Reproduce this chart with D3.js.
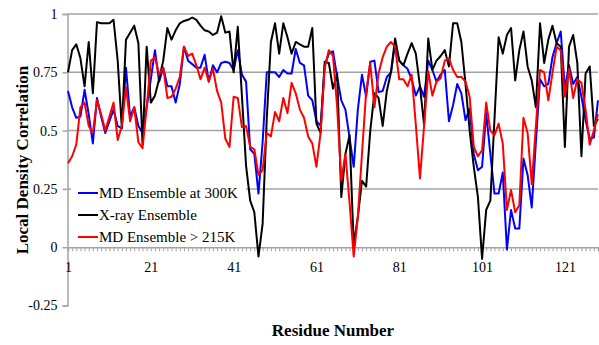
<!DOCTYPE html>
<html>
<head>
<meta charset="utf-8">
<script src="https://cdn.jsdelivr.net/npm/d3@7/dist/d3.min.js"></script>
<style>
body { margin: 0; background: #fff; }
svg text { font-family: "Liberation Serif", "Times New Roman", serif; fill: #000; }
</style>
</head>
<body>
<svg id="chart" width="599" height="345"></svg>
<script>
// residue numbers 1..129, one value per residue and series
var residues = d3.range(1, 130)

var md300 = [
    0.67, 0.6, 0.555, 0.56, 0.675, 0.57, 0.445, 0.64, 0.56, 0.49,
    0.54, 0.59, 0.52, 0.51, 0.77, 0.56, 0.6, 0.52, 0.49, 0.6,
    0.72, 0.845, 0.71, 0.77, 0.69, 0.69, 0.62, 0.7, 0.86, 0.8,
    0.785, 0.77, 0.77, 0.825, 0.71, 0.78, 0.75, 0.79, 0.795, 0.79,
    0.76, 0.845, 0.74, 0.71, 0.42, 0.4, 0.23, 0.45, 0.75, 0.75,
    0.75, 0.73, 0.76, 0.745, 0.745, 0.85, 0.79, 0.78, 0.65, 0.63,
    0.54, 0.52, 0.78, 0.83, 0.84, 0.73, 0.63, 0.59, 0.47, 0.345,
    0.59, 0.74, 0.645, 0.795, 0.8, 0.665, 0.67, 0.73, 0.75, 0.875,
    0.8, 0.78, 0.765, 0.72, 0.65, 0.69, 0.645, 0.8, 0.76, 0.71,
    0.74, 0.76, 0.54, 0.61, 0.7, 0.66, 0.545, 0.595, 0.4, 0.33,
    0.345, 0.575, 0.4, 0.23, 0.23, 0.32, -0.01, 0.16, 0.08, 0.08,
    0.38, 0.31, 0.17, 0.45, 0.72, 0.69, 0.7, 0.815, 0.875, 0.925,
    0.68, 0.78, 0.7, 0.73, 0.645, 0.545, 0.465, 0.47, 0.63
]

var xray = [
    0.75, 0.845, 0.87, 0.81, 0.69, 0.88, 0.66, 0.965, 0.96, 0.96,
    0.96, 0.975, 0.8, 0.51, 0.89, 0.92, 0.95, 0.875, 0.44, 0.86,
    0.62, 0.65, 0.72, 0.8, 0.94, 0.89, 0.93, 0.96, 0.97, 0.975,
    0.985, 0.975, 0.95, 0.93, 0.925, 0.91, 0.92, 0.99, 0.92, 0.925,
    0.75, 0.945, 0.65, 0.35, 0.2, 0.15, -0.04, 0.1, 0.55, 0.88,
    0.96, 0.83, 0.96, 0.9, 0.83, 0.88, 0.87, 0.86, 0.86, 0.94,
    0.53, 0.49, 0.795, 0.79, 0.68, 0.745, 0.215, 0.4, 0.48, 0.01,
    0.13, 0.285, 0.26, 0.5, 0.66, 0.64, 0.52, 0.67, 0.75, 0.895,
    0.8, 0.78, 0.83, 0.875, 0.83, 0.69, 0.525, 0.895, 0.76, 0.8,
    0.82, 0.845, 0.775, 0.96, 0.96, 0.88, 0.7, 0.5, 0.345, 0.215,
    -0.05, 0.16, 0.2, 0.55, 0.9, 0.83, 0.91, 0.94, 0.715, 0.845,
    0.925, 0.775, 0.715, 0.6, 0.96, 0.79, 0.89, 0.95, 0.875, 0.86,
    0.43, 0.86, 0.91, 0.79, 0.39, 0.745, 0.775, 0.52, 0.55
]

var md215 = [
    0.36, 0.39, 0.44, 0.6, 0.62, 0.52, 0.49, 0.63, 0.57, 0.5,
    0.56, 0.62, 0.46, 0.52, 0.685, 0.54, 0.6, 0.45, 0.425, 0.6,
    0.8, 0.815, 0.74, 0.77, 0.64, 0.645, 0.68, 0.73, 0.86, 0.82,
    0.83, 0.78, 0.72, 0.77, 0.71, 0.765, 0.67, 0.62, 0.465, 0.43,
    0.645, 0.64, 0.515, 0.52, 0.43, 0.42, 0.31, 0.33, 0.49, 0.475,
    0.58, 0.54, 0.64, 0.575, 0.705, 0.66, 0.59, 0.555, 0.475, 0.445,
    0.345, 0.49, 0.77, 0.845, 0.82, 0.6, 0.285, 0.4, 0.19, -0.04,
    0.13, 0.4, 0.665, 0.79, 0.6, 0.745, 0.815, 0.86, 0.88, 0.86,
    0.72, 0.72, 0.69, 0.74, 0.525, 0.295, 0.52, 0.755, 0.65, 0.71,
    0.725, 0.8, 0.81, 0.76, 0.73, 0.73, 0.71, 0.645, 0.43, 0.39,
    0.415, 0.62, 0.5, 0.48, 0.53, 0.445, 0.16, 0.245, 0.15, 0.18,
    0.555, 0.49, 0.27, 0.52, 0.76, 0.75, 0.63, 0.745, 0.86, 0.845,
    0.645, 0.765, 0.64, 0.72, 0.705, 0.59, 0.44, 0.5, 0.57
]

var seriesNames = ["MD Ensemble at 300K", "X-ray Ensemble", "MD Ensemble > 215K"]
var yTicks = [-0.25, 0, 0.25, 0.5, 0.75, 1]
var gridTicks = [0.25, 0.5, 0.75, 1]
var xLabels = [1, 21, 41, 61, 81, 101, 121]

var serif = "'Liberation Serif', 'Times New Roman', serif"

function drawChart() {
    var svg = d3.select("#chart")
    var gridColor = "#a3a3a3"

    var x = d3.scaleLinear().domain([1, 129]).range([68, 598])
    var y = d3.scaleLinear().domain([-0.25, 1]).range([305.5, 14])

    // horizontal grid lines
    svg.append("g")
        .selectAll("line")
        .data(gridTicks)
        .enter()
        .append("line")
        .attr("x1", x(1) - 0.5)
        .attr("x2", x(129))
        .attr("y1", function(d) { return y(d) })
        .attr("y2", function(d) { return y(d) })
        .attr("stroke", gridColor)
        .attr("stroke-width", 1.5)

    // value axis
    var yAxis = svg.append("g")
        .attr("transform", "translate(" + (x(1) - 0.5) + ",0)")
        .call(d3.axisLeft(y)
            .tickValues(yTicks)
            .tickSize(5)
            .tickPadding(5)
            .tickFormat(function(d) { return String(d) }))
    yAxis.select(".domain").attr("stroke", gridColor).attr("stroke-width", 1.5)
    yAxis.selectAll(".tick line").attr("stroke", gridColor).attr("stroke-width", 1.5)
    yAxis.selectAll("text")
        .style("font-family", serif)
        .style("font-size", "14px")
        .attr("fill", "#000")

    // category axis on the zero line, one tick per residue
    var xAxis = svg.append("g")
        .attr("transform", "translate(0," + y(0) + ")")
        .call(d3.axisBottom(x)
            .tickValues(residues)
            .tickSize(4)
            .tickPadding(11)
            .tickFormat(function(d) { return xLabels.indexOf(d) >= 0 ? String(d) : "" }))
    xAxis.select(".domain").attr("stroke", gridColor).attr("stroke-width", 1.5)
    xAxis.selectAll(".tick line").attr("stroke", gridColor).attr("stroke-width", 1)
    xAxis.selectAll("text")
        .style("font-family", serif)
        .style("font-size", "14px")
        .attr("fill", "#000")

    // data lines
    var series = [
        { name: seriesNames[0], values: md300, color: "#0000ff" },
        { name: seriesNames[1], values: xray, color: "#000000" },
        { name: seriesNames[2], values: md215, color: "#ff0000" }
    ]

    var line = d3.line()
        .x(function(d, i) { return x(residues[i]) })
        .y(function(d) { return y(d) })

    svg.append("g")
        .selectAll("path")
        .data(series)
        .enter()
        .append("path")
        .attr("d", function(d) { return line(d.values) })
        .attr("fill", "none")
        .attr("stroke", function(d) { return d.color })
        .attr("stroke-width", 2)
        .attr("stroke-linejoin", "round")

    // legend sits on a white box over the lower left of the plot
    var legend = svg.append("g")
    legend.append("rect")
        .attr("x", 71)
        .attr("y", 181)
        .attr("width", 175)
        .attr("height", 64)
        .attr("fill", "#fff")

    var items = legend.selectAll(".legend_item")
        .data(series)
        .enter()
        .append("g")
        .attr("class", "legend_item")
        .attr("transform", function(d, i) { return "translate(0," + (193 + i * 22) + ")" })

    items.append("line")
        .attr("x1", 78)
        .attr("x2", 98)
        .attr("stroke", function(d) { return d.color })
        .attr("stroke-width", 2)

    items.append("text")
        .attr("x", 99)
        .attr("y", 5)
        .style("font-family", serif)
        .style("font-size", "15px")
        .text(function(d) { return d.name })

    // axis titles
    svg.append("text")
        .attr("transform", "translate(28,160) rotate(-90)")
        .attr("text-anchor", "middle")
        .style("font-family", serif)
        .style("font-size", "17px")
        .style("font-weight", "bold")
        .text("Local Density Correlation")

    svg.append("text")
        .attr("x", 333)
        .attr("y", 336)
        .attr("text-anchor", "middle")
        .style("font-family", serif)
        .style("font-size", "17px")
        .style("font-weight", "bold")
        .text("Residue Number")
}

drawChart()
</script>
</body>
</html>
